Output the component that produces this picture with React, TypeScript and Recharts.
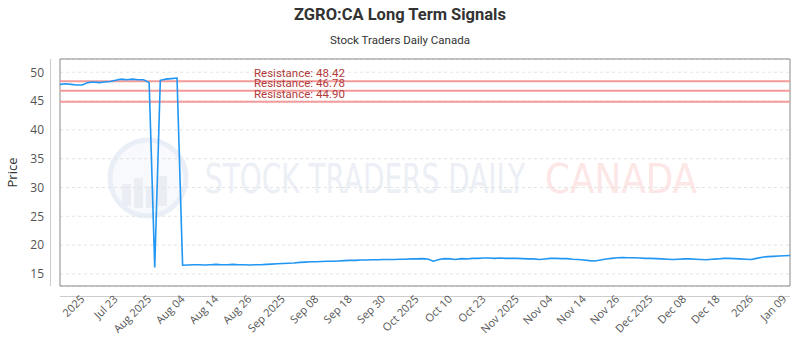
import React from "react";
import {
  LineChart,
  Line,
  XAxis,
  YAxis,
  CartesianGrid,
  ReferenceLine,
  ReferenceArea,
} from "recharts";

const prices = [
  47.9, 48.0, 47.9, 47.8, 47.8, 48.2, 48.3, 48.2, 48.3, 48.4, 48.6, 48.8, 48.7, 48.8, 48.7, 48.7, 48.2,
  16.1,
  48.6, 48.8, 48.9, 49.0,
  16.5, 16.55, 16.6, 16.6, 16.55, 16.6, 16.65, 16.6, 16.6, 16.65,
  16.6, 16.6, 16.55, 16.6, 16.6, 16.65, 16.7,
  16.75, 16.8, 16.85, 16.9, 17.0, 17.05, 17.1,
  17.1, 17.15, 17.2, 17.2, 17.25, 17.3, 17.35,
  17.35, 17.4, 17.4, 17.45, 17.45, 17.5, 17.5, 17.5, 17.55,
  17.55, 17.6, 17.6, 17.65, 17.6, 17.2,
  17.5, 17.65, 17.6, 17.5, 17.65,
  17.6, 17.7, 17.7, 17.75, 17.75,
  17.7, 17.75, 17.7, 17.7, 17.7, 17.65, 17.6, 17.6, 17.5,
  17.6, 17.7, 17.7, 17.65, 17.65,
  17.55, 17.5, 17.4, 17.3, 17.25,
  17.4, 17.6, 17.7, 17.8, 17.85,
  17.8, 17.8, 17.75, 17.7,
  17.7, 17.65, 17.6, 17.55, 17.5,
  17.55, 17.6, 17.6, 17.55, 17.5, 17.45,
  17.55, 17.6, 17.7, 17.7,
  17.65, 17.6, 17.55, 17.5,
  17.7, 17.9, 18.0, 18.05,
  18.1, 18.15, 18.2,
];

const tickIdx = [4, 10, 16, 22, 28, 34, 40, 46, 52, 58, 64, 70, 76, 82, 88, 94, 100, 106, 112, 118, 124, 130];
const tickLabels = [
  "2025", "Jul 23", "Aug 2025", "Aug 04", "Aug 14", "Aug 26", "Sep 2025", "Sep 08", "Sep 18", "Sep 30", "Oct 2025",
  "Oct 10", "Oct 23", "Nov 2025", "Nov 04", "Nov 14", "Nov 26", "Dec 2025", "Dec 08", "Dec 18", "2026", "Jan 09",
];
const yTicks = [15, 20, 25, 30, 35, 40, 45, 50];
const resistance = [48.42, 46.78, 44.9];

const Y_MIN = 12.9;
const Y_MAX = 52.3;

const data = prices.map((p, i) => ({ i, price: p }));

const XTick = ({ x, y, payload }: any) => {
  const k = tickIdx.indexOf(payload.value);
  return (
    <g transform={`translate(${x},${y + 11})`}>
      <text
        textAnchor="end"
        transform="rotate(-45)"
        fontSize={11}
        fontFamily="'Open Sans', sans-serif"
        fill="#555"
        dy={4}
      >
        {k >= 0 ? tickLabels[k] : ""}
      </text>
    </g>
  );
};

const resLabel = (v: number) => (props: any) => {
  const vb = props.viewBox;
  return (
    <text
      x={vb.x + 194}
      y={vb.y - 4}
      fontSize={11.5}
      fontFamily="Roboto, sans-serif"
      fill="#b03a3a"
    >
      {`Resistance: ${v.toFixed(2)}`}
    </text>
  );
};

function Watermark() {
  return (
    <svg width={800} height={350} style={{ position: "absolute", left: 0, top: 0 }}>
      <circle cx={148} cy={178} r={38} fill="#f7f9fc" stroke="#eaeff7" strokeWidth={5} />
      <rect x={122} y={184} width={9} height={22} fill="#eaedf3" />
      <rect x={134} y={178} width={9} height={30} fill="#eaedf3" />
      <rect x={146} y={186} width={9} height={22} fill="#eaedf3" />
      <rect x={158} y={176} width={9} height={30} fill="#eaedf3" />
      <text
        x={205}
        y={193}
        fontSize={41}
        fontFamily="'DejaVu Sans Condensed', 'DejaVu Sans', sans-serif"
        fill="#eceff5"
        textLength={320}
        lengthAdjust="spacingAndGlyphs"
      >
        STOCK TRADERS DAILY
      </text>
      <text
        x={545}
        y={193}
        fontSize={41}
        fontFamily="'DejaVu Sans Condensed', 'DejaVu Sans', sans-serif"
        fill="#fce6e6"
        textLength={152}
        lengthAdjust="spacingAndGlyphs"
      >
        CANADA
      </text>
    </svg>
  );
}

export default function App() {
  return (
    <div style={{ position: "absolute", left: 0, top: 0, width: 800, height: 350, background: "#fff" }}>
      <Watermark />
      <div
        style={{
          position: "absolute",
          top: 5,
          width: 800,
          textAlign: "center",
          fontFamily: "Roboto, sans-serif",
          fontWeight: 700,
          fontSize: 16.5,
          color: "#333",
        }}
      >
        ZGRO:CA Long Term Signals
      </div>
      <div
        style={{
          position: "absolute",
          top: 33,
          width: 800,
          textAlign: "center",
          fontFamily: "Roboto, sans-serif",
          fontSize: 11.5,
          color: "#333",
        }}
      >
        Stock Traders Daily Canada
      </div>
      {/* offset axis lines */}
      <div style={{ position: "absolute", left: 50, top: 59, width: 1, height: 227, background: "#ccc" }} />
      <div style={{ position: "absolute", left: 60, top: 296, width: 730, height: 1, background: "#ccc" }} />
      <div style={{ position: "absolute", left: 0, top: 0 }}>
        <LineChart width={800} height={350} data={data} margin={{ top: 59, right: 10, left: 0, bottom: 0 }}>
          <CartesianGrid vertical={false} stroke="#e3e3e3" strokeDasharray="3 3" />
          <XAxis
            dataKey="i"
            type="number"
            domain={[0, prices.length - 1]}
            ticks={tickIdx}
            interval={0}
            height={64}
            axisLine={false}
            tickLine={false}
            tickSize={0}
            tickMargin={0}
            tick={<XTick />}
          />
          <YAxis
            domain={[Y_MIN, Y_MAX]}
            ticks={yTicks}
            width={60}
            axisLine={false}
            tickLine={false}
            tickSize={0}
            tickMargin={16}
            tick={{ fontSize: 12, fill: "#555", fontFamily: "'Open Sans', sans-serif" }}
            label={(props: any) => {
              const vb = props.viewBox;
              const cx = vb.x + 17;
              const cy = vb.y + vb.height / 2;
              return (
                <text
                  x={cx}
                  y={cy}
                  transform={`rotate(-90 ${cx} ${cy})`}
                  textAnchor="middle"
                  fontSize={13}
                  fontFamily="'Open Sans', sans-serif"
                  fill="#333"
                >
                  Price
                </text>
              );
            }}
          />
          <ReferenceArea
            x1={0}
            x2={prices.length - 1}
            y1={Y_MIN}
            y2={Y_MAX}
            fill="none"
            fillOpacity={0}
            stroke="#888"
            strokeWidth={1}
          />
          {resistance.map((r) => (
            <ReferenceLine
              key={r}
              y={r}
              stroke="#f39a9a"
              strokeWidth={2}
              label={resLabel(r)}
            />
          ))}
          <Line
            type="linear"
            dataKey="price"
            stroke="#2196f3"
            strokeWidth={1.6}
            dot={false}
            isAnimationActive={false}
          />
        </LineChart>
      </div>
    </div>
  );
}
